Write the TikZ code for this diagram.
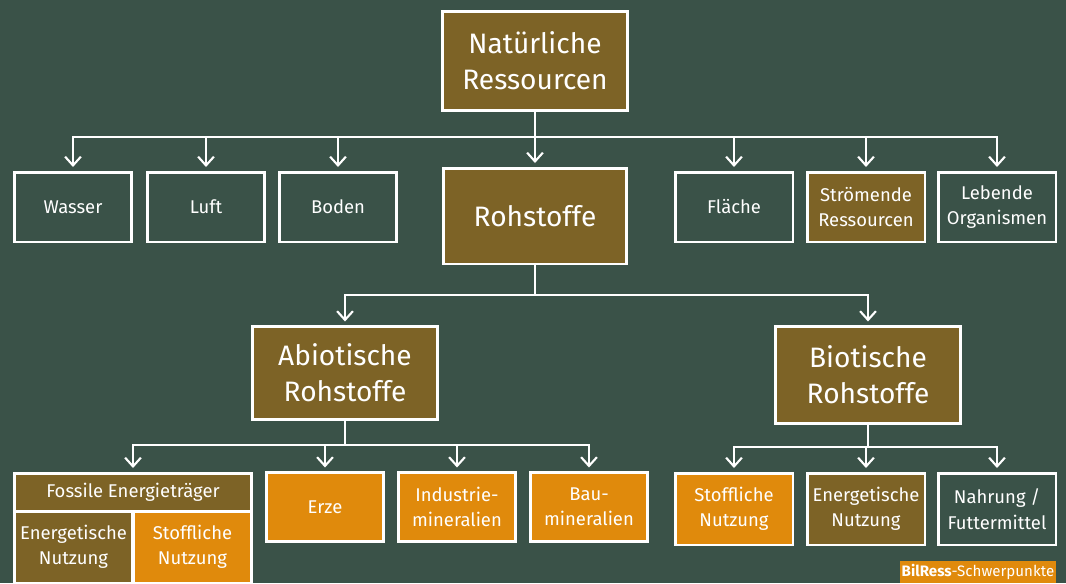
\documentclass[tikz,border=0pt]{standalone}
\usepackage{fontspec}
\setmainfont{Fira Sans}
\usepackage{tikz}
\usetikzlibrary{arrows.meta}

\definecolor{board}{RGB}{58,82,72}
\definecolor{bark}{RGB}{125,99,38}
\definecolor{amber}{RGB}{224,138,12}

\begin{document}
\begin{tikzpicture}[x=0.02cm,y=-0.02cm,
  box/.style={draw=white,line width=1.7pt,text=white,align=center,inner sep=0pt,
    minimum width=2.36cm,minimum height=1.4cm,font=\fontsize{10.5}{14.5}\selectfont},
  bigbox/.style={box,fill=bark,minimum width=3.7cm,minimum height=1.9cm,
    font=\fontsize{16}{20.5}\selectfont},
  conn/.style={white,line width=1.2pt,-{Straight Barb[length=5pt,width=9pt]},shorten >=2pt}]
\fill[board] (0,0) rectangle (1066,583);
\useasboundingbox (0,0) rectangle (1066,583);

% top level
\node[bigbox,minimum height=1.98cm] (nat) at (535,61) {Natürliche\\Ressourcen};

\node[box] (wasser) at (73,207) {Wasser};
\node[box] (luft) at (206,207) {Luft};
\node[box] (boden) at (338,207) {Boden};
\node[bigbox,minimum width=3.68cm,minimum height=1.92cm] (roh) at (535,216) {Rohstoffe};
\node[box] (flaeche) at (734,207) {Fläche};
\node[box,fill=bark] (stroem) at (866,207) {Strömende\\Ressourcen};
\node[box] (lebende) at (997,207) {Lebende\\Organismen};

% Rohstoffe
\node[bigbox,minimum height=1.86cm] (abio) at (345,373) {Abiotische\\Rohstoffe};
\node[bigbox,minimum height=1.94cm] (bio) at (868,375) {Biotische\\Rohstoffe};

% abiotisch
\node[box,fill=bark,minimum width=4.76cm,minimum height=0.76cm] (fossil) at (133,492) {Fossile Energieträger};
\node[box,fill=bark,minimum width=2.38cm,minimum height=1.44cm] (fenerg) at (73.5,547) {Energetische\\Nutzung};
\node[box,fill=amber,minimum width=2.38cm,minimum height=1.44cm] (fstoff) at (192.5,547) {Stoffliche\\Nutzung};
\node[box,fill=amber,minimum height=1.38cm] (erze) at (325,507) {Erze};
\node[box,fill=amber,minimum height=1.38cm] (indus) at (457,507) {Industrie-\\mineralien};
\node[box,fill=amber,minimum height=1.38cm] (bau) at (589,507) {Bau-\\mineralien};

% biotisch
\node[box,fill=amber,minimum height=1.44cm] (bstoff) at (734,509) {Stoffliche\\Nutzung};
\node[box,fill=bark,minimum height=1.44cm] (benerg) at (866,509) {Energetische\\Nutzung};
\node[box,minimum height=1.44cm] (nahrung) at (997,509) {Nahrung /\\Futtermittel};

\node[fill=amber,text=white,inner sep=0pt,minimum width=3.14cm,minimum height=0.44cm,
  font=\fontsize{8.6}{10}\selectfont] (badge) at (978,572) {\textbf{BilRess}-Schwerpunkte};

% connectors
\coordinate (topbus) at (0,137);
\coordinate (rohbus) at (0,295);
\coordinate (abiobus) at (0,445);
\coordinate (biobus) at (0,447);
\foreach \n in {wasser,luft,boden,roh,flaeche,stroem,lebende}
  \draw[conn] (nat.south) |- (\n.north |- topbus) -- (\n.north);
\foreach \n in {abio,bio}
  \draw[conn] (roh.south) |- (\n.north |- rohbus) -- (\n.north);
\foreach \n in {fossil,erze,indus,bau}
  \draw[conn] (abio.south) |- (\n.north |- abiobus) -- (\n.north);
\foreach \n in {bstoff,benerg,nahrung}
  \draw[conn] (bio.south) |- (\n.north |- biobus) -- (\n.north);
\end{tikzpicture}
\end{document}
